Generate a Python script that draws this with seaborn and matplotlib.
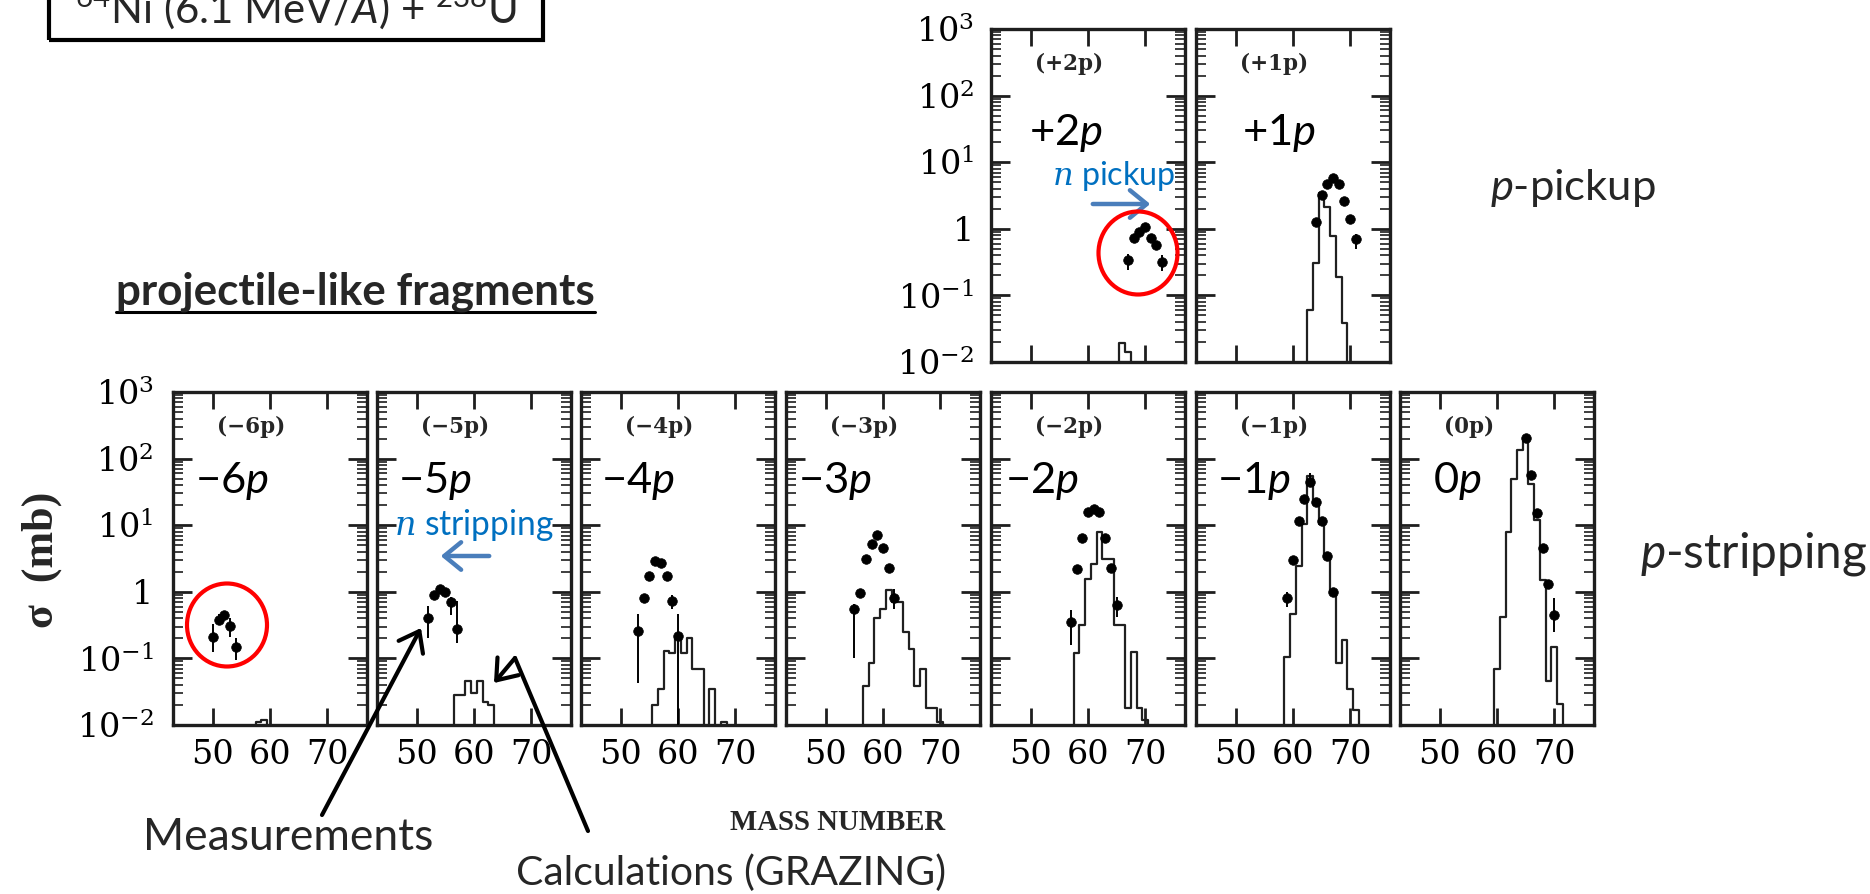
import numpy as np
import pandas as pd
import matplotlib
matplotlib.use("Agg")
import matplotlib.pyplot as plt
import seaborn as sns
from matplotlib.patches import Ellipse, Rectangle, FancyArrowPatch
from matplotlib.ticker import LogLocator, NullFormatter
from matplotlib.lines import Line2D

# ---------------- data (mass number, sigma [mb], err_low, err_high) ----------------
meas_m6 = [(50, 0.21, 0.125, 0.33), (51, 0.38, 0.32, 0.46), (52, 0.45, 0.38, 0.52),
           (53, 0.31, 0.21, 0.40), (54, 0.15, 0.096, 0.20)]
meas_m5 = [(52, 0.40, 0.20, 0.62), (53, 0.90, 0.78, 1.02), (54, 1.10, 0.95, 1.25),
           (55, 1.00, 0.88, 1.12), (56, 0.70, 0.45, 0.85), (57, 0.28, 0.17, 0.72)]
meas_m4 = [(53, 0.26, 0.042, 0.47), (54, 0.81, 0.70, 0.90), (55, 1.70, 1.50, 1.90),
           (56, 2.90, 2.60, 3.20), (57, 2.70, 2.40, 3.00), (58, 1.70, 1.50, 1.90),
           (59, 0.72, 0.55, 0.90), (60, 0.22, 0.005, 0.46)]
meas_m3 = [(55, 0.56, 0.10, 0.65), (56, 0.95, 0.80, 1.10), (57, 3.10, 2.80, 3.40),
           (58, 5.30, 4.80, 5.80), (59, 7.10, 6.40, 7.80), (60, 4.50, 4.00, 5.00),
           (61, 2.30, 2.00, 2.60), (62, 0.80, 0.55, 1.10)]
meas_m2 = [(57, 0.35, 0.16, 0.53), (58, 2.20, 2.00, 2.40), (59, 6.50, 6.00, 7.00),
           (60, 16.0, 14.5, 17.5), (61, 17.5, 16.0, 19.0), (62, 16.0, 14.5, 17.5),
           (63, 6.50, 6.00, 7.00), (64, 2.30, 2.00, 2.60), (65, 0.63, 0.42, 0.84)]
meas_m1 = [(59, 0.80, 0.60, 1.00), (60, 3.05, 2.70, 3.40), (61, 11.5, 10.5, 12.5),
           (62, 25.0, 23.0, 27.0), (63, 44.0, 40.0, 60.0), (64, 22.0, 20.0, 24.0),
           (65, 11.5, 10.5, 12.5), (66, 3.50, 3.10, 3.90), (67, 1.00, 0.85, 1.15)]
meas_0 = [(65, 204, 180, 230), (66, 56.0, 50.0, 62.0), (67, 15.3, 13.5, 17.0),
          (68, 4.50, 4.00, 5.00), (69, 1.30, 1.10, 1.50), (70, 0.45, 0.25, 0.80)]
meas_p2 = [(67, 0.34, 0.24, 0.42), (68, 0.74, 0.65, 0.85), (69, 0.90, 0.80, 1.00),
           (70, 1.05, 0.95, 1.15), (71, 0.74, 0.65, 0.85), (72, 0.57, 0.50, 0.65),
           (73, 0.32, 0.23, 0.40)]
meas_p1 = [(64, 1.26, 1.10, 1.40), (65, 3.24, 2.90, 3.60), (66, 4.70, 4.20, 5.20),
           (67, 5.80, 5.20, 6.40), (68, 4.70, 4.20, 5.20), (69, 2.66, 2.40, 2.90),
           (70, 1.38, 1.20, 1.55), (71, 0.71, 0.50, 0.85)]

# GRAZING calculations (mass number, sigma [mb]); 0.001 = below the plotted range
calc_m6 = [(57, 0.001), (58, 0.011), (59, 0.012), (60, 0.001)]
calc_m5 = [(56, 0.001), (57, 0.028), (58, 0.028), (59, 0.045), (60, 0.030),
           (61, 0.045), (62, 0.022), (63, 0.020), (64, 0.001)]
calc_m4 = [(55, 0.001), (56, 0.020), (57, 0.035), (58, 0.13), (59, 0.12), (60, 0.20),
           (61, 0.12), (62, 0.20), (63, 0.07), (64, 0.07), (65, 0.001), (66, 0.035),
           (67, 0.001), (68, 0.011), (69, 0.001)]
calc_m3 = [(56, 0.001), (57, 0.038), (58, 0.086), (59, 0.40), (60, 0.56), (61, 1.06),
           (62, 0.71), (63, 0.71), (64, 0.25), (65, 0.14), (66, 0.038), (67, 0.069),
           (68, 0.018), (69, 0.018), (70, 0.011), (71, 0.001)]
calc_m2 = [(57, 0.001), (58, 0.12), (59, 0.32), (60, 1.58), (61, 2.6), (62, 7.8),
           (63, 3.16), (64, 3.16), (65, 0.32), (66, 0.32), (67, 0.018), (68, 0.126),
           (69, 0.018), (70, 0.012), (71, 0.001)]
calc_m1 = [(58, 0.001), (59, 0.106), (60, 0.47), (61, 2.4), (62, 10.6), (63, 54.0),
           (64, 21.0), (65, 10.6), (66, 3.5), (67, 1.0), (68, 0.084), (69, 0.19),
           (70, 0.035), (71, 0.017), (72, 0.001)]
calc_0 = [(59, 0.001), (60, 0.07), (61, 0.42), (62, 7.8), (63, 50.0), (64, 133.0),
          (65, 184.0), (66, 42.0), (67, 12.0), (68, 1.5), (69, 0.045), (70, 0.15),
          (71, 0.021), (72, 0.001)]
calc_p2 = [(65, 0.001), (66, 0.019), (67, 0.014), (68, 0.001)]
calc_p1 = [(62, 0.001), (63, 0.06), (64, 0.31), (65, 3.4), (66, 2.1), (67, 0.77),
           (68, 0.19), (69, 0.038), (70, 0.001)]

panel_tags = ["(−6p)", "(−5p)", "(−4p)", "(−3p)", "(−2p)", "(−1p)", "(0p)", "(+2p)", "(+1p)"]
big_labels = ["−6$p$", "−5$p$", "−4$p$", "−3$p$", "−2$p$", "−1$p$", "0$p$", "+2$p$", "+1$p$"]
x_ticks = [50, 60, 70]
y_ticks = [1e-2, 1e-1, 1, 1e1, 1e2, 1e3]
y_ticklabels = [r"$10^{-2}$", r"$10^{-1}$", "1", r"$10^{1}$", r"$10^{2}$", r"$10^{3}$"]

meas_all = [meas_m6, meas_m5, meas_m4, meas_m3, meas_m2, meas_m1, meas_0, meas_p2, meas_p1]
calc_all = [calc_m6, calc_m5, calc_m4, calc_m3, calc_m2, calc_m1, calc_0, calc_p2, calc_p1]

# ---------------- layout (pixels) ----------------
W, H = 1870, 894
PW, PH = 194, 333
lefts = [173, 377, 581, 786, 991, 1196, 1400, 991, 1196]
tops = [392] * 7 + [29, 29]
big_off = [22, 21, 20, 12, 14, 21, 33, 38, 46]
big_base = [493] * 7 + [145, 145]
TICK_FS = 24

sns.set_theme(style="ticks")
plt.rcParams.update({
    "font.family": ["DejaVu Serif"],
    "mathtext.fontset": "custom",
    "mathtext.rm": "DejaVu Serif",
    "mathtext.it": "Lato:italic",
    "mathtext.sf": "DejaVu Serif:italic",
    "mathtext.bf": "DejaVu Serif:bold",
    "axes.edgecolor": "#1e1e1e",
})

fig = plt.figure(figsize=(W / 100, H / 100), dpi=100)
fig.patch.set_facecolor("white")
SANS = ["Lato", "DejaVu Sans"]


def fx(x):
    return x / W


def fy(y):
    return 1 - y / H


renderer = fig.canvas.get_renderer()


def fit_width(t, target):
    w = t.get_window_extent(renderer).width
    t.set_fontsize(t.get_fontsize() * target / w)


def fit_height(t, target):
    h = t.get_window_extent(renderer).height
    t.set_fontsize(t.get_fontsize() * target / h)


for i in range(9):
    left, top = lefts[i], tops[i]
    ax = fig.add_axes([fx(left), fy(top + PH), PW / W, PH / H])
    ax.set_yscale("log")
    dfc = pd.DataFrame(calc_all[i], columns=["A", "sigma"])
    sns.lineplot(data=dfc, x="A", y="sigma", ax=ax, drawstyle="steps-mid",
                 color="#202020", linewidth=1.6, estimator=None, errorbar=None)
    dfm = pd.DataFrame(meas_all[i], columns=["A", "sigma", "lo", "hi"])
    ax.errorbar(dfm["A"], dfm["sigma"],
                yerr=[dfm["sigma"] - dfm["lo"], dfm["hi"] - dfm["sigma"]],
                fmt="none", ecolor="black", elinewidth=1.4, capsize=0, zorder=4)
    sns.scatterplot(data=dfm, x="A", y="sigma", ax=ax, color="black", s=48,
                    edgecolor="black", linewidth=0.5, zorder=5)
    ax.set_xlim(43, 77)
    ax.set_ylim(1e-2, 1e3)
    ax.set_xlabel("")
    ax.set_ylabel("")
    ax.set_xticks(x_ticks)
    ax.set_yticks(y_ticks)
    ax.yaxis.set_minor_locator(LogLocator(base=10, subs=np.arange(2, 10), numticks=20))
    ax.yaxis.set_minor_formatter(NullFormatter())
    first = i in (0, 7)
    bottom_row = i < 7
    if first:
        ax.set_yticklabels(y_ticklabels, fontsize=TICK_FS)
    else:
        ax.set_yticklabels([])
    if bottom_row:
        ax.set_xticklabels([str(v) for v in x_ticks], fontsize=TICK_FS)
    else:
        ax.set_xticklabels([])
    ax.tick_params(axis="x", which="major", direction="in", length=12, width=2,
                   top=True, bottom=True, labelsize=TICK_FS, pad=10, colors="#1e1e1e")
    ax.tick_params(axis="x", which="minor", bottom=False, top=False)
    ax.tick_params(axis="y", which="major", direction="in", length=14, width=2,
                   left=True, right=True, labelsize=TICK_FS, pad=14 if i == 0 else 12,
                   colors="#1e1e1e")
    ax.tick_params(axis="y", which="minor", direction="in", length=7, width=1.2,
                   left=True, right=True, colors="#1e1e1e")
    for lab in ax.get_xticklabels() + ax.get_yticklabels():
        lab.set_color("black")
        lab.set_fontsize(TICK_FS)
    for s in ax.spines.values():
        s.set_linewidth(2.4)
        s.set_visible(True)
    ax.text(0.225, 0.895, panel_tags[i], transform=ax.transAxes, ha="left",
            va="center", fontsize=15.5, fontweight="bold", family="DejaVu Serif")
    ax.set_facecolor("white")

# big overlay labels
bigs = []
for i in range(9):
    t = fig.text(fx(lefts[i] + big_off[i]), fy(big_base[i]), big_labels[i],
                 family=SANS, fontsize=27, ha="left", va="baseline", color="black")
    bigs.append(t)
fit_width(bigs[0], 74)
for t in bigs[1:]:
    t.set_fontsize(bigs[0].get_fontsize())

# title box (cut off at the top, as in the original slide)
fig.add_artist(Rectangle((fx(49), fy(40)), (543 - 49) / W, 0.2, transform=fig.transFigure,
                         fill=False, edgecolor="black", linewidth=3.0, clip_on=False))
tt = fig.text(fx(296), fy(23), r"$^{\mathregular{64}}$Ni (6.1 MeV/$A$) + $^{\mathregular{238}}$U",
              family=SANS, fontsize=32, ha="center", va="baseline")
fit_width(tt, 443)

# projectile-like fragments (bold, underlined)
pf = fig.text(fx(116), fy(305), "projectile-like fragments", family=SANS, fontweight="bold",
              fontsize=26, ha="left", va="baseline")
fit_width(pf, 480)
bb = pf.get_window_extent(renderer)
fig.add_artist(Line2D([bb.x0 / W, bb.x1 / W], [fy(312), fy(312)], transform=fig.transFigure,
                      color="black", linewidth=2.2))

# right-hand labels
t = fig.text(fx(1490), fy(200), "$p$-pickup", family=SANS, fontsize=26, ha="left", va="baseline")
fit_width(t, 166)
t = fig.text(fx(1640), fy(567), "$p$-stripping", family=SANS, fontsize=26, ha="left", va="baseline")
fit_width(t, 228)

# blue annotations
BLUE_T = "#0070C0"
BLUE_A = "#4A7EBB"
t = fig.text(fx(1052), fy(185), r"$\mathsf{n}$ pickup", family=SANS, fontsize=22,
             ha="left", va="baseline", color=BLUE_T)
fit_width(t, 123)
t = fig.text(fx(394), fy(535), r"$\mathsf{n}$ stripping", family=SANS, fontsize=22,
             ha="left", va="baseline", color=BLUE_T)
fit_width(t, 160)
fig.add_artist(FancyArrowPatch((fx(1090), fy(204)), (fx(1153), fy(204)), transform=fig.transFigure,
                               arrowstyle="->,head_length=0.55,head_width=0.45", mutation_scale=22,
                               color=BLUE_A, linewidth=3.2))
fig.add_artist(FancyArrowPatch((fx(492), fy(556)), (fx(438), fy(556)), transform=fig.transFigure,
                               arrowstyle="->,head_length=0.55,head_width=0.45", mutation_scale=22,
                               color=BLUE_A, linewidth=3.2))

# red circles
fig.add_artist(Ellipse((fx(227), fy(625)), 80 / W, 83 / H, transform=fig.transFigure,
                       fill=False, edgecolor="#FF0000", linewidth=3.0))
fig.add_artist(Ellipse((fx(1138), fy(253)), 79 / W, 83 / H, transform=fig.transFigure,
                       fill=False, edgecolor="#FF0000", linewidth=3.0))

# black pointer arrows
fig.add_artist(FancyArrowPatch((fx(322), fy(815)), (fx(421), fy(628)), transform=fig.transFigure,
                               arrowstyle="->,head_length=0.6,head_width=0.45", mutation_scale=22,
                               color="black", linewidth=3.0, shrinkA=0, shrinkB=0))
fig.add_artist(Line2D([fx(588), fx(515)], [fy(831), fy(658)], transform=fig.transFigure,
                      color="black", linewidth=3.0, solid_capstyle="round"))
fig.add_artist(FancyArrowPatch((fx(515), fy(658)), (fx(494), fy(683)), transform=fig.transFigure,
                               arrowstyle="->,head_length=0.6,head_width=0.45", mutation_scale=22,
                               color="black", linewidth=3.0, shrinkA=0, shrinkB=0))

# annotation texts
t = fig.text(fx(143), fy(838), "Measurements", family=SANS, fontsize=28, ha="left", va="center")
fit_width(t, 290)
t = fig.text(fx(516), fy(873), "Calculations (GRAZING)", family=SANS, fontsize=28, ha="left", va="center")
fit_width(t, 430)

# axis titles
t = fig.text(fx(730), fy(823), "MASS NUMBER", family="Liberation Serif", fontweight="bold",
             fontsize=20, ha="left", va="center")
fit_width(t, 214)
t = fig.text(fx(42), fy(560), "σ  (mb)", family=["Liberation Serif", "DejaVu Serif"], fontweight="bold",
             fontsize=24, ha="center", va="center", rotation=90)
fit_height(t, 137)

fig.savefig("out.png", dpi=100, facecolor="white")
